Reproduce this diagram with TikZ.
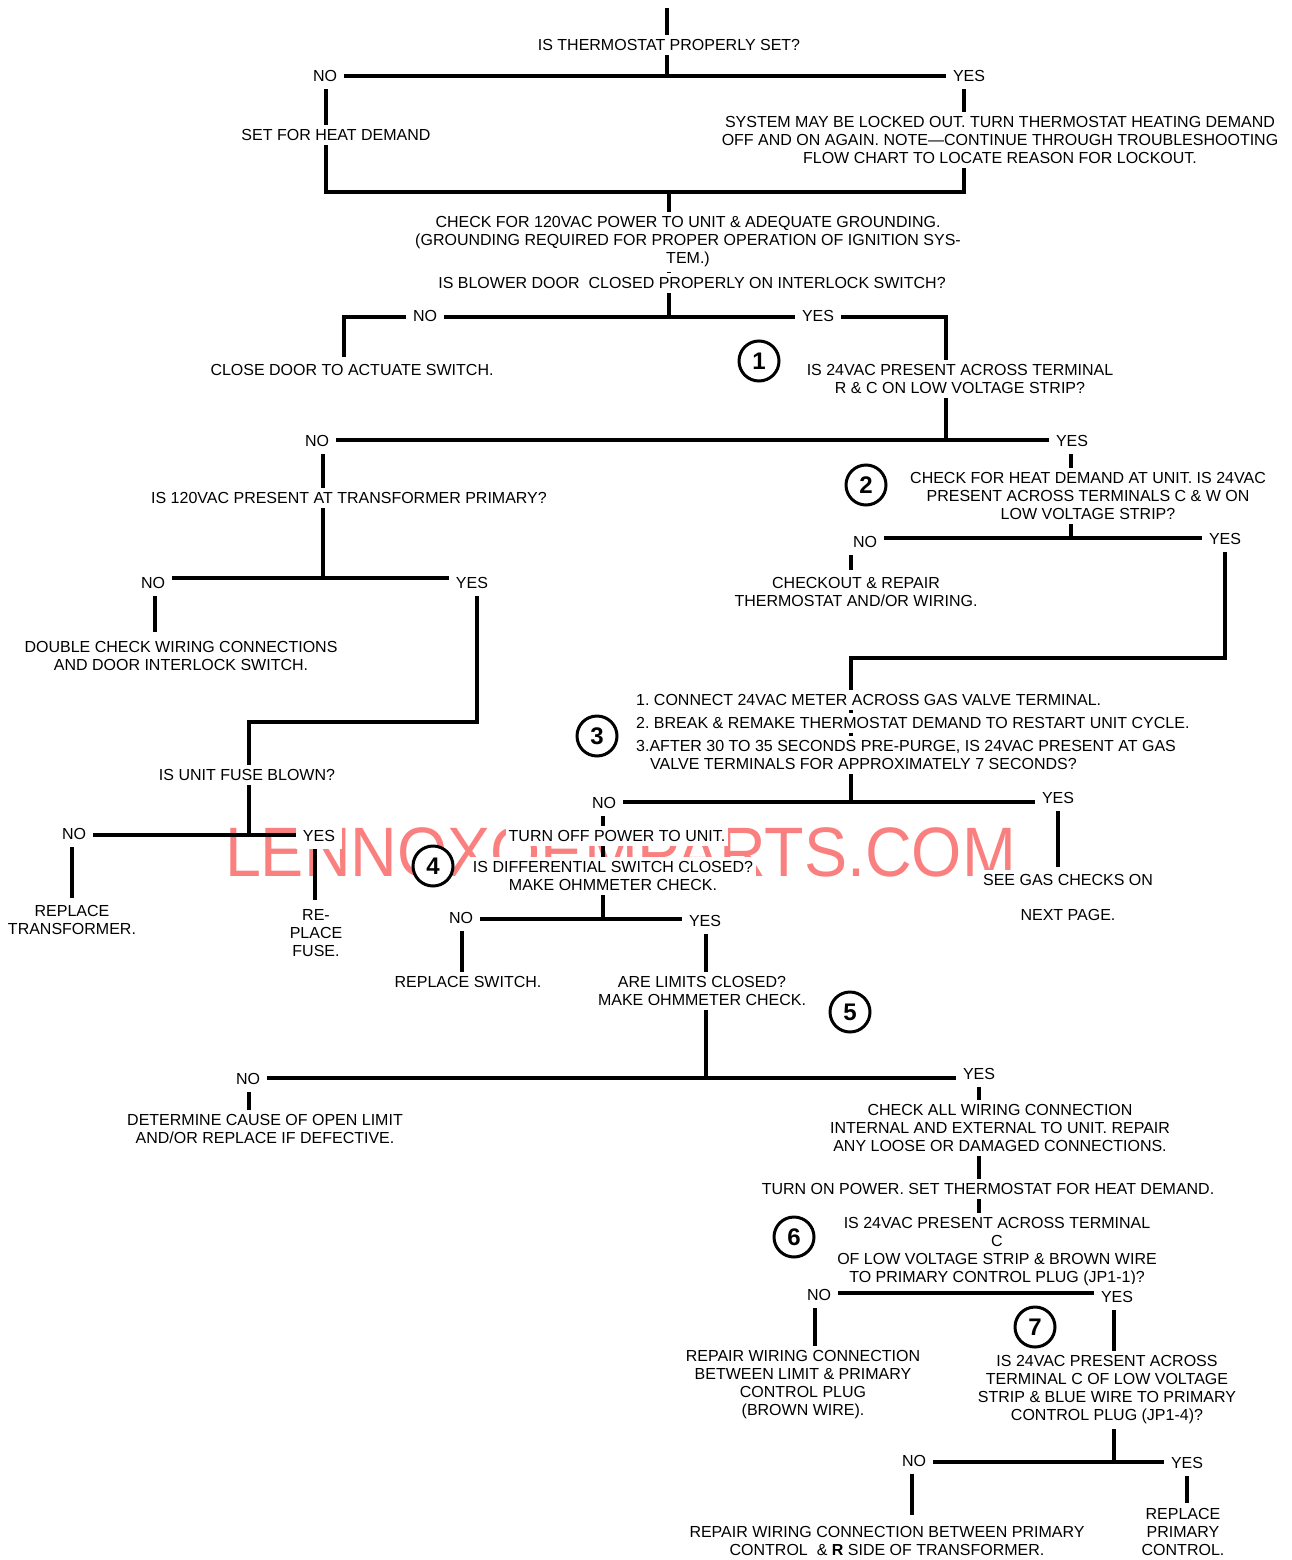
\documentclass[tikz,border=0pt]{standalone}
\usepackage{fontspec}
\setmainfont{Liberation Sans}
\frenchspacing
\pgfdeclarelayer{wm}
\pgfdeclarelayer{bg}
\pgfsetlayers{wm,bg,main}
\definecolor{wmpink}{RGB}{250,128,128}
\tikzset{
 ln/.style={line width=3.3pt, line join=miter},
 txt/.style={fill=white, inner xsep=3pt, inner ysep=4.5pt, align=center, font=\fontsize{16}{18}\selectfont},
 lbl/.style={fill=white, inner sep=7pt, font=\fontsize{16}{18}\selectfont},
 gasline/.style={fill=white, inner xsep=1pt, inner ysep=4pt, anchor=base west, font=\fontsize{16}{18}\selectfont},
 num/.style={circle, draw, fill=white, line width=3pt, minimum size=40pt, inner sep=0pt, font=\fontsize{24}{24}\selectfont\bfseries},
}
\begin{document}
\begin{tikzpicture}[x=1pt,y=-1pt]
\useasboundingbox (0,0) rectangle (1291,1560);

% watermark
\begin{pgfonlayer}{wm}
\node[anchor=base, text=wmpink, font=\fontsize{70}{70}\selectfont, inner sep=0pt] (wmk) at (620.5,876) {\scalebox{0.923}[1]{LENNOXOEMPARTS.COM}};
\end{pgfonlayer}

% ---------- text nodes ----------
\node[txt] (q1) at (669,45) {IS THERMOSTAT PROPERLY SET?};
\node[lbl] (no1) at (325,76) {NO};
\node[lbl] (yes1) at (969,76) {YES};
\node[txt] (sethd) at (336,135) {SET FOR HEAT DEMAND};
\node[txt] (lock) at (1000,140) {SYSTEM MAY BE LOCKED OUT. TURN THERMOSTAT HEATING DEMAND\\OFF AND ON AGAIN. NOTE—CONTINUE THROUGH TROUBLESHOOTING\\FLOW CHART TO LOCATE REASON FOR LOCKOUT.};
\node[txt] (chk120) at (688,242) {CHECK FOR 120VAC POWER TO UNIT \& ADEQUATE GROUNDING.\\(GROUNDING REQUIRED FOR PROPER OPERATION OF IGNITION SYS-\\TEM.)};
\node[txt] (blower) at (692,283) {IS BLOWER DOOR\ \ CLOSED PROPERLY ON INTERLOCK SWITCH?};
\node[lbl] (no2) at (425,316) {NO};
\node[lbl] (yes2) at (818,316) {YES};
\node[txt] (close) at (352,370) {CLOSE DOOR TO ACTUATE SWITCH.};
\node[num] (c1) at (759,361) {1};
\node[txt] (q24rc) at (960,379) {IS 24VAC PRESENT ACROSS TERMINAL\\R \& C ON LOW VOLTAGE STRIP?};
\node[lbl] (no3) at (317,441) {NO};
\node[lbl] (yes3) at (1072,441) {YES};
\node[txt] (q120) at (349,498) {IS 120VAC PRESENT AT TRANSFORMER PRIMARY?};
\node[lbl] (no4) at (153,583) {NO};
\node[lbl] (yes4) at (472,583) {YES};
\node[txt] (dbl) at (181,656) {DOUBLE CHECK WIRING CONNECTIONS\\AND DOOR INTERLOCK SWITCH.};
\node[txt] (fuse) at (247,775) {IS UNIT FUSE BLOWN?};
\node[lbl] (no5) at (74,834) {NO};
\node[lbl] (yes5) at (319,836) {YES};
\node[txt] (reptr) at (72,920) {REPLACE\\TRANSFORMER.};
\node[txt] (repfuse) at (316,933) {RE-\\PLACE\\FUSE.};
\node[num] (c2) at (866,485) {2};
\node[txt] (heat) at (1088,496) {CHECK FOR HEAT DEMAND AT UNIT. IS 24VAC\\PRESENT ACROSS TERMINALS C \& W ON\\LOW VOLTAGE STRIP?};
\node[lbl] (no6) at (865,542) {NO};
\node[lbl] (yes6) at (1225,539) {YES};
\node[txt] (chkth) at (856,592) {CHECKOUT \& REPAIR\\THERMOSTAT AND/OR WIRING.};
\node[num] (c3) at (597,736) {3};
\node[gasline] (g1) at (635,705.6) {1. CONNECT 24VAC METER ACROSS GAS VALVE TERMINAL.};
\node[gasline] (g2) at (635,728.6) {2. BREAK \& REMAKE THERMOSTAT DEMAND TO RESTART UNIT CYCLE.};
\node[gasline] (g3) at (635,751.6) {3.AFTER 30 TO 35 SECONDS PRE-PURGE, IS 24VAC PRESENT AT GAS};
\node[gasline] (g4) at (649,769.6) {VALVE TERMINALS FOR APPROXIMATELY 7 SECONDS?};
\node[lbl] (no7) at (604,803) {NO};
\node[lbl] (yes7) at (1058,798) {YES};
\node[txt] (seegas) at (1068,880) {SEE GAS CHECKS ON};
\node[txt] (nextp) at (1068,915) {NEXT PAGE.};
\node[txt] (turnoff) at (617,836) {TURN OFF POWER TO UNIT.};
\node[num] (c4) at (433,866) {4};
\node[txt] (diff) at (613,876) {IS DIFFERENTIAL SWITCH CLOSED?\\MAKE OHMMETER CHECK.};
\node[lbl] (no8) at (461,918) {NO};
\node[lbl] (yes8) at (705,921) {YES};
\node[txt] (repsw) at (468,982) {REPLACE SWITCH.};
\node[txt] (limits) at (702,991) {ARE LIMITS CLOSED?\\MAKE OHMMETER CHECK.};
\node[num] (c5) at (850,1012) {5};
\node[lbl] (no9) at (248,1079) {NO};
\node[lbl] (yes9) at (979,1074) {YES};
\node[txt] (detc) at (265,1129) {DETERMINE CAUSE OF OPEN LIMIT\\AND/OR REPLACE IF DEFECTIVE.};
\node[txt] (chkall) at (1000,1128) {CHECK ALL WIRING CONNECTION\\INTERNAL AND EXTERNAL TO UNIT. REPAIR\\ANY LOOSE OR DAMAGED CONNECTIONS.};
\node[txt] (turnon) at (988,1189) {TURN ON POWER. SET THERMOSTAT FOR HEAT DEMAND.};
\node[num] (c6) at (794,1237) {6};
\node[txt] (q6) at (997,1252) {IS 24VAC PRESENT ACROSS TERMINAL\\C\\OF LOW VOLTAGE STRIP \& BROWN WIRE\\TO PRIMARY CONTROL PLUG (JP1-1)?};
\node[lbl] (no10) at (819,1295) {NO};
\node[lbl] (yes10) at (1117,1297) {YES};
\node[txt] (repbr) at (803,1385) {REPAIR WIRING CONNECTION\\BETWEEN LIMIT \& PRIMARY\\CONTROL PLUG\\(BROWN WIRE).};
\node[num] (c7) at (1035,1327) {7};
\node[txt] (q7) at (1107,1390) {IS 24VAC PRESENT ACROSS\\TERMINAL C OF LOW VOLTAGE\\STRIP \& BLUE WIRE TO PRIMARY\\CONTROL PLUG (JP1-4)?};
\node[lbl] (no11) at (914,1461) {NO};
\node[lbl] (yes11) at (1187,1463) {YES};
\node[txt] (repR) at (887,1541) {REPAIR WIRING CONNECTION BETWEEN PRIMARY\\CONTROL\ \ \& \textbf{R} SIDE OF TRANSFORMER.};
\node[txt] (reppc) at (1183,1532) {REPLACE\\PRIMARY\\CONTROL.};

% ---------- junction coordinates ----------
\coordinate (top) at (667,8);
\coordinate (a1) at (667,76);
\coordinate (a2) at (326,76);
\coordinate (a3) at (964,192);
\coordinate (a4) at (669,192);
\coordinate (b1) at (669,317);
\coordinate (b2) at (344,357);
\coordinate (b3) at (946,317);
\coordinate (b4) at (946,440);
\coordinate (d1) at (323,440);
\coordinate (d2) at (1071,440);
\coordinate (d3) at (1071,538);
\coordinate (e1) at (323,578);
\coordinate (e2) at (155,632);
\coordinate (e3) at (477,578);
\coordinate (e4) at (249,722);
\coordinate (e5) at (249,835);
\coordinate (f1) at (72,898);
\coordinate (f2) at (315,900);
\coordinate (g0) at (851,570);
\coordinate (g5) at (1225,658);
\coordinate (g6) at (851,802);
\coordinate (h1) at (1058,867);
\coordinate (h2) at (603,919);
\coordinate (i1) at (462,972);
\coordinate (i2) at (706,1078);
\coordinate (j1) at (249,1110);
\coordinate (j2) at (979,1293);
\coordinate (k1) at (815,1347);
\coordinate (k2) at (1114,1462);
\coordinate (m1) at (912,1515);
\coordinate (m2) at (1187,1503);

% ---------- connectors ----------
\begin{pgfonlayer}{bg}
\draw[ln] (top) -- (a1);
\draw[ln] (a2) rectangle (a3);
\draw[ln] (a4) -- (b1);
\draw[ln] (b2) -- (b2 |- b1) -- (b3) -- (b4);
\draw[ln] (e1) -- (d1) -- (d2) -- (d3);
\draw[ln] (e2) -- (e2 |- e1) -- (e3) -- (e3 |- e4) -- (e4) -- (e5);
\draw[ln] (f1) -- (f1 |- e5) -- (f2 |- e5) -- (f2);
\draw[ln] (g0) -- (g0 |- d3) -- (g5 |- d3) -- (g5) -- (g0 |- g5) -- (g6);
\draw[ln] (h1) -- (h1 |- g6) -- (h2 |- g6) -- (h2);
\draw[ln] (i1) -- (i1 |- h2) -- (i2 |- h2) -- (i2);
\draw[ln] (j1) -- (j1 |- i2) -- (j2 |- i2) -- (j2);
\draw[ln] (k1) -- (k1 |- j2) -- (k2 |- j2) -- (k2);
\draw[ln] (m1) -- (m1 |- k2) -- (m2 |- k2) -- (m2);
\end{pgfonlayer}
\end{tikzpicture}
\end{document}
